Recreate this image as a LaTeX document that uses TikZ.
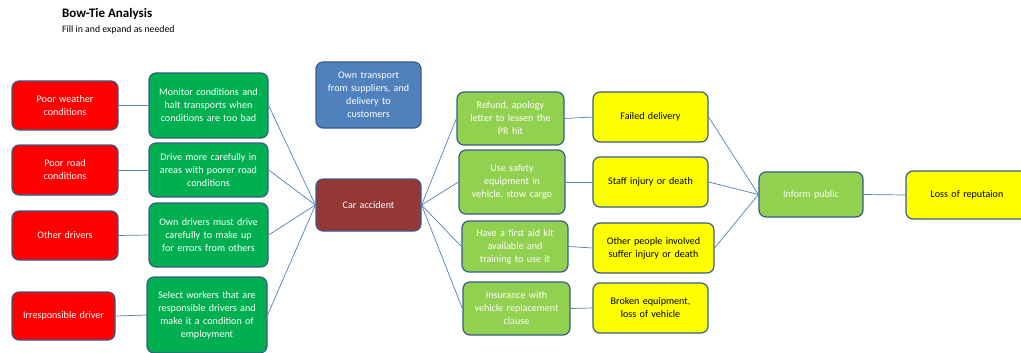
\documentclass[tikz,border=0pt]{standalone}
\usepackage{fontspec}
\setmainfont{Carlito}
\begin{document}
\begin{tikzpicture}[x=1pt,y=-1pt,
  box/.style={draw=boxline, line width=1.2pt, rounded corners=7pt, align=center,
    inner sep=2pt, font=\fontsize{10.1}{13}\selectfont},
  cause/.style={box, fill=causered, text=white},
  barrier/.style={box, fill=barriergreen, text=white},
  remedy/.style={box, fill=remedygreen, text=white},
  outcome/.style={box, fill=outyellow, text=black},
  link/.style={draw=linkblue, line width=0.7pt}]
\definecolor{boxline}{HTML}{385D8A}
\definecolor{causered}{HTML}{FF0000}
\definecolor{barriergreen}{HTML}{00B050}
\definecolor{remedygreen}{HTML}{92D050}
\definecolor{outyellow}{HTML}{FFFF00}
\definecolor{topblue}{HTML}{4F81BD}
\definecolor{eventred}{HTML}{953735}
\definecolor{linkblue}{HTML}{4F81BD}
\useasboundingbox (0,0) rectangle (1021,353);
\fill[white] (0,0) rectangle (1021,353);

% heading
\node[anchor=base west, inner sep=0, font=\fontsize{13}{15}\selectfont\bfseries] (title) at (62,18) {Bow-Tie Analysis};
\node[anchor=base west, inner sep=0, font=\fontsize{9.8}{12}\selectfont] (sub) at (62,33) {Fill in and expand as needed};

% causes
\node[cause, minimum width=106pt, minimum height=49pt, text width=95pt] (c1) at (65,105.5) {Poor weather\\conditions};
\node[cause, minimum width=106pt, minimum height=50pt, text width=95pt] (c2) at (65,170) {Poor road\\conditions};
\node[cause, minimum width=106pt, minimum height=49pt, text width=95pt] (c3) at (65,235.5) {Other drivers};
\node[cause, minimum width=103pt, minimum height=48pt, text width=95pt] (c4) at (63.5,316) {Irresponsible driver};

% preventive barriers
\node[barrier, minimum width=119pt, minimum height=65pt, text width=112pt] (b1) at (208.5,105.5) {Monitor conditions and\\halt transports when\\conditions are too bad};
\node[barrier, minimum width=119pt, minimum height=54pt, text width=112pt] (b2) at (208.5,170) {Drive more carefully in\\areas with poorer road\\conditions};
\node[barrier, minimum width=119pt, minimum height=64pt, text width=112pt] (b3) at (208.5,235) {Own drivers must drive\\carefully to make up\\for errors from others};
\node[barrier, minimum width=120pt, minimum height=76pt, text width=113pt] (b4) at (207,315) {Select workers that are\\responsible drivers and\\make it a condition of\\employment};

% hazard and top event
\node[box, fill=topblue, text=white, minimum width=105pt, minimum height=66pt, text width=98pt] (hz) at (368.5,95) {Own transport\\from suppliers, and\\delivery to\\customers};
\node[box, fill=eventred, text=white, minimum width=105pt, minimum height=52pt, text width=98pt] (ev) at (368.5,205) {Car accident};

% recovery measures
\node[remedy, minimum width=107pt, minimum height=53pt, text width=100pt] (m1) at (510.5,118.5) {Refund, apology\\letter to lessen the\\PR hit};
\node[remedy, minimum width=106pt, minimum height=64pt, text width=100pt] (m2) at (512,182) {Use safety\\equipment in\\vehicle, stow cargo};
\node[remedy, minimum width=106pt, minimum height=51pt, text width=100pt] (m3) at (515,246.5) {Have a first aid kit\\available and\\training to use it};
\node[remedy, minimum width=107pt, minimum height=53pt, text width=100pt] (m4) at (516.5,308.5) {Insurance with\\vehicle replacement\\clause};

% consequences
\node[outcome, minimum width=115pt, minimum height=50pt, text width=110pt] (o1) at (650.5,117) {Failed delivery};
\node[outcome, minimum width=115pt, minimum height=50pt, text width=110pt] (o2) at (650.5,182) {Staff injury or death};
\node[outcome, minimum width=121pt, minimum height=50pt, text width=114pt] (o3) at (653.5,248) {Other people involved\\suffer injury or death};
\node[outcome, minimum width=115pt, minimum height=50pt, text width=110pt] (o4) at (650.5,308) {Broken equipment,\\loss of vehicle};

% escalation
\node[remedy, minimum width=104pt, minimum height=45pt, text width=98pt] (ip) at (811,194.5) {Inform public};
\node[outcome, minimum width=122pt, minimum height=48pt, text width=114pt] (lr) at (967,195) {Loss of reputaion};

% connectors
\foreach \i in {1,...,4} {
  \draw[link] (c\i.east) -- (b\i.west);
  \draw[link] (b\i.east) -- (ev.west);
  \draw[link] (ev.east) -- (m\i.west);
  \draw[link] (m\i.east) -- (o\i.west);
}
\foreach \i in {1,2,3} {
  \draw[link] (o\i.east) -- (ip.west);
}
\draw[link] (ip.east) -- (lr.west);
\end{tikzpicture}
\end{document}
